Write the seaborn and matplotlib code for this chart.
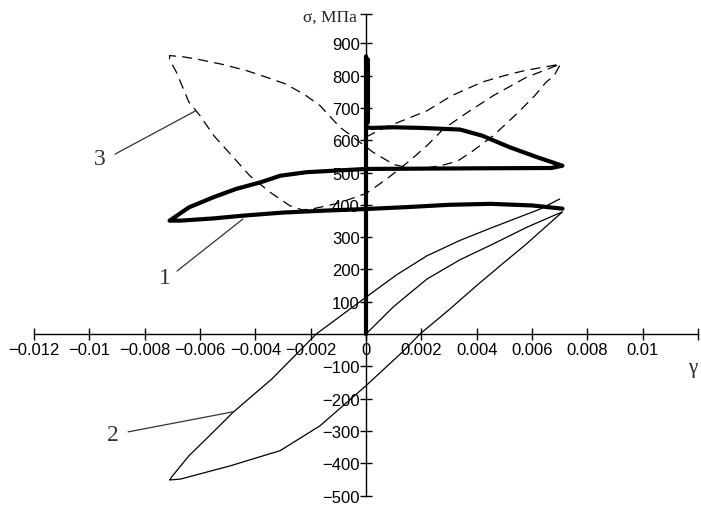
import numpy as np
import pandas as pd
import matplotlib
matplotlib.use("Agg")
import matplotlib.pyplot as plt
import seaborn as sns

# Curve 1: thick solid line (gamma, sigma MPa)
gamma_1 = [0.0, 0.0, 0.00007, 0.00007, 0.0, 0.0002, 0.001, 0.002, 0.0034, 0.0042, 0.0052,
           0.0062, 0.0071, 0.0067, 0.004, 0.0, -0.00215, -0.0031, -0.0038, -0.0047,
           -0.0055, -0.0064, -0.0071, -0.0067, -0.0055, -0.0045, -0.003, -0.0015,
           0.0, 0.0015, 0.003, 0.0045, 0.006, 0.0071]
sigma_1 = [0, 860, 655, 850, 640, 638, 640, 638, 633, 614, 578,
           547, 521, 514, 513, 511, 501, 490, 470, 449,
           424, 392, 351, 351, 358, 366, 376, 382,
           387, 393, 400, 403, 398, 388]

# Curve 2: thin solid line
gamma_2 = [0.0, 0.001, 0.0022, 0.0034, 0.0046, 0.0058, 0.0069, 0.0071,
           0.0066, 0.0058, 0.0049, 0.004, 0.003, 0.00195, 0.0013, 0.0,
           -0.00166, -0.0031, -0.0049, -0.0067, -0.0071, -0.007, -0.0064,
           -0.0056, -0.0048, -0.0034, -0.0018, 0.0, 0.0011, 0.0022, 0.0034,
           0.0046, 0.0063, 0.007]
sigma_2 = [0, 85, 170, 230, 279, 330, 371, 378,
           340, 279, 215, 150, 75, 0, -57, -160,
           -284, -361, -408, -449, -452, -440, -377,
           -310, -242, -139, 0, 114, 183, 242, 290,
           331, 387, 418]

# Curve 3: dashed line
gamma_3 = [0.0, 0.0007, 0.0013, 0.0022, 0.0031, 0.0042, 0.005, 0.0057, 0.0064, 0.007,
           0.0065, 0.0058, 0.0046, 0.0037, 0.0028, 0.0022, 0.0016, 0.00075, 0.0,
           -0.001, -0.0019, -0.0023, -0.00275, -0.00347, -0.0042, -0.0049, -0.0055,
           -0.006, -0.0064, -0.00685, -0.0071, -0.0071, -0.0066, -0.0061, -0.0052,
           -0.0043, -0.0036, -0.0029, -0.0022, -0.00166, -0.00094, -0.0005, 0.00025,
           0.001, 0.0015, 0.002, 0.0027, 0.0033, 0.0038, 0.0046, 0.0055, 0.0061,
           0.0065, 0.0068, 0.007]
sigma_3 = [610, 640, 660, 691, 738, 780, 800, 815, 826, 835,
           818, 795, 738, 688, 635, 583, 538, 480, 435,
           405, 388, 384, 397, 439, 490, 557, 614,
           676, 718, 810, 850, 862, 858, 851, 835,
           815, 795, 774, 740, 707, 640, 612, 563,
           525, 515, 512, 521, 535, 563, 614, 686, 738,
           779, 800, 831]

x_ticks = [-0.012, -0.01, -0.008, -0.006, -0.004, -0.002, 0.0, 0.002, 0.004, 0.006, 0.008, 0.01, 0.012]
x_tick_labels = ["\u22120.012", "\u22120.01", "\u22120.008", "\u22120.006", "\u22120.004",
                 "\u22120.002", "0", "0.002", "0.004", "0.006", "0.008", "0.01", ""]
y_ticks = [-500, -400, -300, -200, -100, 100, 200, 300, 400, 500, 600, 700, 800, 900, 990]
y_tick_labels = ["\u2212500", "\u2212400", "\u2212300", "\u2212200", "\u2212100", "100", "200",
                 "300", "400", "500", "600", "700", "800", "900", ""]

sns.set_style("white")
plt.rcParams["font.family"] = ["Liberation Sans", "DejaVu Sans"]

fig = plt.figure(figsize=(7.01, 5.06), dpi=100)
ax = fig.add_axes([0, 0, 1, 1])
ax.patch.set_alpha(0)

sns.lineplot(x=gamma_2, y=sigma_2, sort=False, estimator=None, color="black",
             linewidth=0.9, ax=ax)
sns.lineplot(x=gamma_3, y=sigma_3, sort=False, estimator=None, color="black",
             linewidth=0.9, linestyle=(0, (8, 5)), ax=ax)
sns.lineplot(x=gamma_1, y=sigma_1, sort=False, estimator=None, color="black",
             linewidth=3.0, solid_joinstyle="round", ax=ax)

ax.set_xlim(-0.013229, 0.012108)
ax.set_ylim(-529.4, 1037.2)

for side in ("top", "right"):
    ax.spines[side].set_visible(False)
ax.spines["left"].set_position(("data", 0))
ax.spines["bottom"].set_position(("data", 0))
ax.spines["left"].set_bounds(-500, 990)
ax.spines["bottom"].set_bounds(-0.012, 0.012)
for side in ("left", "bottom"):
    ax.spines[side].set_linewidth(1.0)
    ax.spines[side].set_color("black")

ax.set_xticks(x_ticks)
ax.set_xticklabels(x_tick_labels)
ax.set_yticks(y_ticks)
ax.set_yticklabels(y_tick_labels)
ax.tick_params(axis="both", which="major", bottom=True, left=True, direction="inout",
               length=9, width=1.0, colors="black", labelsize=12)
ax.tick_params(axis="x", pad=1)
ax.tick_params(axis="y", pad=0)
ax.set_xlabel("")
ax.set_ylabel("")

serif = ["Liberation Serif", "DejaVu Serif"]
fig.text(357 / 701, 1 - 18 / 506, "σ, МПа", ha="right", va="center",
         fontsize=12.5, family=serif)
fig.text(693 / 701, 1 - 368 / 506, "γ", ha="center", va="center",
         fontsize=15, family=serif)

labels = [("1", (-0.00727, 176), (-0.00683, 195), (-0.00445, 356)),
          ("2", (-0.00914, -310), (-0.0086, -303), (-0.00481, -241)),
          ("3", (-0.00961, 542), (-0.00907, 557), (-0.00618, 690))]
for txt, pos, start, end in labels:
    ax.text(pos[0], pos[1], txt, ha="center", va="center", fontsize=17,
            family=serif, color="#333333")
    ax.annotate("", xy=end, xytext=start,
                arrowprops=dict(arrowstyle="-", color="#333333", lw=0.9,
                                shrinkA=0, shrinkB=0))

fig.savefig("out.png", dpi=100)
